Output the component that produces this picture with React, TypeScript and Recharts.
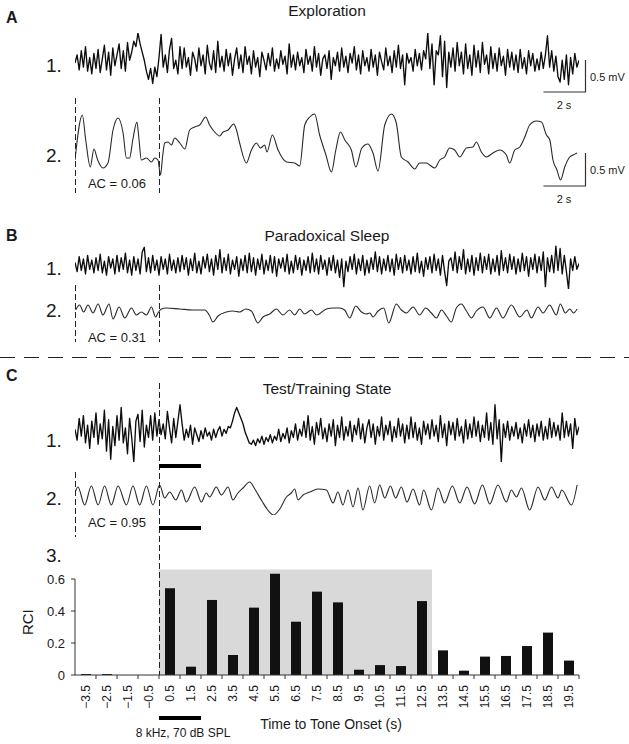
import React from 'react';
import { LineChart, Line, XAxis, YAxis, BarChart, Bar, ReferenceArea, ReferenceLine } from 'recharts';

const FONT = '"Liberation Sans", Arial, Helvetica, sans-serif';
const INK = '#1a1a1a';

// time axis shared by all traces (s, relative to tone onset)
const T_START = -4;
const T_END = 20;
const TRACE_LEFT = 75;
const TRACE_WIDTH = 504;
const xOf = (t: number) => TRACE_LEFT + ((t - T_START) / (T_END - T_START)) * TRACE_WIDTH;
const crisp = (x: number) => Math.round(x) + 0.5;

// raw LFP, 10 samples per second, amplitude in arbitrary units
const a1Samples = [
  0, 6, -5, 9, -3, 12, -6, 4, -8, 7,
  -4, 10, -7, 3, 13, -5, 8, -9, 11, -2,
  6, 14, -4, 9, -6, 15, 2, 8, 16, 12,
  22, 14, 8, 2, -6, -12, -4, -15, -3, -10,
  4, 21, -3, 6, -7, 10, 18, -4, 2, -8,
  12, -4, 11, -3, 4, -9, 8, 3, -6, 11,
  -2, 6, -8, 13, 0, -5, 9, -7, 16, -3,
  5, -6, 10, -2, 7, -9, 3, 11, -4, 6,
  -7, 12, -1, 5, -8, 9, -3, 4, -10, 8,
  2, -5, 7, -2, 11, -6, 3, -4, 9, -1,
  5, -8, 14, -3, 6, -5, 8, -2, 4, -7,
  10, -1, 5, -6, 12, -3, 7, -9, 3, 6,
  -4, 9, -12, 4, -2, 8, -6, 11, -3, 5,
  -7, 7, 0, 12, -5, 6, -8, 9, -2, 4,
  -6, 10, -3, 6, -9, 8, 1, -5, 11, -2,
  5, -7, 9, -3, 13, -4, 6, -16, 7, 0,
  4, -6, 10, -2, 7, -5, 9, 3, 22, -4,
  14, -16, 9, 6, 20, -10, 16, -18, 8, -3,
  11, -6, 15, -2, 8, -8, 14, -4, 6, -9,
  13, -3, 9, -7, 15, -1, 6, -8, 12, -4,
  7, -6, 11, -2, 5, -9, 10, -3, 8, -5,
  6, -7, 10, -4, 4, -8, 9, -2, 7, -6,
  3, -5, 8, -4, 6, 20, -3, 9, -6, 5,
  -10, -14, 2, -12, 6, -16, 4, -8, 7, -3,
  2,
];

const b1Samples = [
  3, -5, 8, -4, 6, -7, 9, -3, 5, -6,
  7, -4, 10, -6, 4, -8, 8, -2, 6, -7,
  9, -5, 7, -3, 11, -6, 5, -8, 8, -4,
  6, -7, 12, 16, -5, 7, -6, 9, -4, 5,
  -8, 8, -3, 6, -7, 10, -4, 5, -6, 7,
  -5, 9, -3, 7, -8, 6, -4, 11, -6, 4,
  -7, 8, -2, 10, -5, 6, -8, 9, -3, 14,
  -6, 7, -4, 10, -7, 5, -3, 8, -9, 6,
  -4, 9, -6, 11, -5, 7, -8, 6, -3, 10,
  -7, 5, -4, 9, -6, 8, -9, 6, -2, 7,
  -5, 10, -7, 4, -6, 9, -3, 7, -8, 5,
  -4, 8, -6, 11, -5, 6, -7, 9, -3, 5,
  -8, 7, -4, 9, -6, 5, -10, 6, -18, 4,
  -5, 8, -3, 10, -7, 6, -4, 9, -8, 5,
  -6, 7, -3, 12, -5, 8, -7, 6, -4, 9,
  -5, 6, -8, 10, -3, 7, -6, 9, -4, 5,
  -7, 8, -5, 11, -6, 4, -9, 7, -3, 8,
  -6, 10, -4, 6, -8, 9, -5, -17, 4, 7,
  -4, 12, -6, 8, -3, 14, -7, 6, -5, 9,
  -8, 7, -4, 11, -6, 8, -3, 10, -7, 6,
  -5, 9, -8, 13, -4, 7, -6, 10, -3, 8,
  -7, 6, -5, 11, -4, 8, -9, 7, -3, 10,
  -6, 8, -4, 12, -18, 7, -5, 9, -6, 17,
  -4, 15, -7, 9, -5, -20, 6, -4, 8, -3,
  2,
];

const c1Samples = [
  2, -6, 10, -3, 12, -8, 5, -12, 8, -4,
  14, -9, 6, -5, 16, -14, 9, -20, 4, -10,
  12, -6, 18, -8, 3, -16, 10, -4, -22, 8,
  13, -7, 16, -11, 5, -4, 12, -6, 14, -3,
  9, -2, 6, -5, 15, 3, -8, 10, -4, 8,
  20, 6, -6, 2, -4, 5, -9, 3, -2, -7,
  1, -5, 3, -3, 0, -6, 2, -4, 1, 4,
  -3, 2, -1, 4, 3, 8, 14, 18, 14, 10,
  6, 0, -4, -8, -9, -6, -10, -5, -8, -3,
  -9, -4, -7, -2, -8, -3, -6, 2, -7, -1,
  -5, 3, -8, 1, -4, 6, -6, 2, -3, 8,
  -4, 12, -6, 4, -9, 7, -2, 10, -5, 3,
  -7, 6, -3, 9, -10, 5, -4, 11, -6, 4,
  -3, 8, -7, 5, -2, 10, -5, 6, -8, 3,
  9, -4, 6, -9, 4, -3, 11, -6, 5, -2,
  8, -7, 4, -4, 10, -3, 6, -8, 5, -5,
  11, -4, 7, -6, 3, -9, 8, -2, 6, -5,
  9, -3, 5, -7, 12, -4, 6, -10, 8, -2,
  7, -6, 10, -3, 4, -8, 9, -5, 6, -4,
  11, -3, 8, -7, 5, -4, 14, -6, 7, -9,
  20, -5, 9, -22, 6, -4, 8, -6, 4, -3,
  7, -5, 3, -8, 6, -3, 9, -4, 5, -7,
  6, -3, 8, -6, 4, -5, 10, -4, 7, -3,
  5, -6, 14, -4, 8, -3, 6, -12, 10, -2,
  4,
];

// filtered traces: [time (s), amplitude]
const a2Points: [number, number][] = [
  [-4.0, -15], [-3.65, 30], [-3.49, 5], [-3.27, -22], [-3.1, -4], [-2.92, -15], [-2.67, -23], [-2.43, -18],
  [-2.19, 15], [-1.95, 27], [-1.71, 12], [-1.55, -13], [-1.4, -13], [-1.25, 5], [-1.05, 23], [-0.95, 5],
  [-0.84, -15], [-0.6, -13], [-0.36, -17], [-0.2, -13], [-0.05, -15], [0.07, -30], [0.18, -10], [0.27, 2],
  [0.43, 3], [0.59, 0], [0.75, 7], [0.99, 2], [1.23, -4], [1.46, 15], [1.7, 18], [1.94, 20],
  [2.22, 28], [2.41, 20], [2.65, 13], [2.89, 9], [3.05, 13], [3.29, 15], [3.56, 21], [3.69, 15],
  [3.84, 2], [4.16, -18], [4.4, -5], [4.64, 2], [4.83, -3], [5.03, 0], [5.14, -7], [5.4, 10],
  [5.67, -5], [6.07, -17], [6.46, -18], [6.7, -21], [6.94, 20], [7.18, 28], [7.41, 31], [7.65, 10],
  [7.95, -10], [8.21, -27], [8.42, -5], [8.64, 13], [8.85, 5], [9.16, -5], [9.37, -22], [9.66, -3],
  [9.95, 1], [10.19, -8], [10.43, -26], [10.75, 20], [11.07, 31], [11.3, 22], [11.54, -12], [11.86, -17],
  [12.18, -24], [12.41, -18], [12.73, -18], [12.89, -20], [13.13, -23], [13.37, -15], [13.6, -12], [13.84, -3],
  [14.08, -5], [14.32, -12], [14.64, -3], [14.95, -2], [15.11, 3], [15.35, -7], [15.59, -12], [15.9, -8],
  [16.22, -5], [16.54, -10], [16.7, -18], [16.94, -5], [17.18, -2], [17.42, 8], [17.65, 20], [17.97, 24],
  [18.21, 23], [18.45, 10], [18.61, 5], [18.76, -15], [18.95, -25], [19.12, -35], [19.32, -22], [19.56, -12],
  [19.72, -10], [19.91, -8],
];

const b2Points: [number, number][] = [
  [-3.97, 2], [-3.78, 7], [-3.59, 0], [-3.38, 7], [-3.14, -1], [-2.9, 8], [-2.67, -3], [-2.38, 8],
  [-2.19, -7], [-1.9, 5], [-1.63, -6], [-1.31, 4], [-1.08, -3], [-0.84, 0], [-0.6, -3], [-0.36, 5],
  [-0.16, -5], [-0.05, -1], [0.11, 3], [0.35, 4], [0.99, 3], [1.62, 2], [2.18, 2], [2.39, -3],
  [2.57, -10], [2.81, -4], [3.21, 0], [3.52, 1], [3.84, 0], [4.13, 3], [4.4, 1], [4.71, -11],
  [4.95, -5], [5.27, -2], [5.59, 3], [5.9, -3], [6.22, 2], [6.46, -3], [6.7, 3], [6.93, -2],
  [7.26, 2], [7.5, -3], [7.97, 3], [8.29, 4], [8.6, 4], [8.84, 2], [9.08, -6], [9.37, 6],
  [9.64, 0], [9.88, -2], [10.04, -1], [10.19, -5], [10.43, 1], [10.7, 4], [10.94, -11], [11.3, 8],
  [11.54, 2], [11.78, -1], [12.1, 5], [12.41, -3], [12.7, 4], [12.97, -1], [13.21, -6], [13.45, 2],
  [13.69, -4], [13.92, -10], [14.16, 4], [14.4, 8], [14.64, 1], [14.88, -6], [15.11, 1], [15.43, 5],
  [15.75, -6], [16.07, 4], [16.38, -6], [16.78, 7], [17.18, -5], [17.52, 2], [17.73, -6], [18.05, 5],
  [18.29, -1], [18.6, 7], [18.92, -3], [19.11, 8], [19.35, -1], [19.56, 3], [19.74, -1], [19.91, 3],
];

const c2Points: [number, number][] = [
  [-4.0, 2], [-3.86, 8], [-3.54, -10], [-3.22, 9], [-2.9, -10], [-2.59, 9], [-2.27, -10], [-1.95, 9],
  [-1.55, -10], [-1.24, 9], [-0.92, -10], [-0.6, 9], [-0.29, -10], [0.03, 10], [0.27, -3], [0.51, 3],
  [0.8, -5], [1.07, 5], [1.3, -7], [1.7, 8], [2.02, -7], [2.25, 2], [2.41, -2], [2.73, 8],
  [2.97, 0], [3.29, 8], [3.52, -5], [3.76, 2], [4.0, 7], [4.32, 13], [4.56, 6], [4.9, -6],
  [5.18, -15], [5.46, -20], [5.75, -14], [6.07, -2], [6.3, 2], [6.46, 6], [6.62, -5], [6.86, 0],
  [7.18, 3], [7.57, 6], [7.97, 5], [8.29, -8], [8.52, 3], [8.76, -10], [9.0, 5], [9.24, -12],
  [9.48, 7], [9.71, -15], [10.03, 9], [10.27, -8], [10.51, 10], [10.75, -3], [11.02, 9], [11.27, -3],
  [11.54, 8], [11.81, -7], [12.1, 6], [12.41, -10], [12.6, 5], [12.97, -15], [13.29, 7], [13.6, -8],
  [13.97, 9], [14.32, -8], [14.67, 8], [15.03, -9], [15.4, 10], [15.75, -9], [16.14, 10], [16.54, -7],
  [16.78, 5], [17.02, -2], [17.26, 7], [17.65, -15], [18.05, 8], [18.37, -5], [18.69, 8], [19.0, -3],
  [19.18, 5], [19.64, -10], [19.91, 10],
];

// panel C3: response consistency index per 1 s bin
const bins = ['−3.5', '−2.5', '−1.5', '−0.5', '0.5', '1.5', '2.5', '3.5', '4.5', '5.5', '6.5', '7.5',
  '8.5', '9.5', '10.5', '11.5', '12.5', '13.5', '14.5', '15.5', '16.5', '17.5', '18.5', '19.5'];
const rci = [0.006, 0.006, 0, 0, 0.542, 0.052, 0.469, 0.125, 0.421, 0.633, 0.333, 0.521,
  0.454, 0.033, 0.062, 0.056, 0.462, 0.154, 0.027, 0.115, 0.119, 0.181, 0.265, 0.09];
const rciTicks = [0, 0.2, 0.4, 0.6];
const trainingWindow = ['0.5', '12.5'];
const rciShadeTop = 0.66;

const barData = bins.map((bin, i) => ({ bin, rci: rci[i] }));

const sampleData = (samples: number[]) => samples.map((v, i) => ({ i, v }));
const pointData = (pts: [number, number][]) => pts.map(([t, v]) => ({ i: t, v }));

interface TraceProps {
  data: { i: number; v: number }[];
  xDomain: [number, number];
  top: number;
  height: number;
  range: number;
  smooth?: boolean;
}

const Trace: React.FC<TraceProps> = ({ data, xDomain, top, height, range, smooth }) => (
  <div style={{ position: 'absolute', left: TRACE_LEFT, top }}>
    <LineChart width={TRACE_WIDTH} height={height} data={data} margin={{ top: 0, right: 0, bottom: 0, left: 0 }}>
      <XAxis dataKey="i" type="number" domain={xDomain} hide />
      <YAxis type="number" domain={[-range, range]} hide />
      <Line
        type={smooth ? 'monotone' : 'linear'}
        dataKey="v"
        stroke={smooth ? '#2a2a2a' : '#0d0d0d'}
        strokeWidth={smooth ? 1.1 : 1.35}
        strokeLinejoin="round"
        dot={false}
        isAnimationActive={false}
      />
    </LineChart>
  </div>
);

const BinTick = (props: any) => {
  const { x, y, payload, width, visibleTicksCount } = props;
  const half = width / visibleTicksCount / 2;
  return (
    <g>
      <line x1={x + half} x2={x + half} y1={y - 4} y2={y} stroke="#333" />
      <text
        x={x}
        y={y + 6}
        transform={`rotate(-90 ${x} ${y + 6})`}
        textAnchor="end"
        dominantBaseline="central"
        fontSize={12}
        fill={INK}
        fontFamily={FONT}
      >
        {payload.value}
      </text>
    </g>
  );
};

const Txt = ({ x, y, children, size = 13, anchor = 'middle', weight = 'normal' }: any) => (
  <text x={x} y={y} fontSize={size} textAnchor={anchor} dominantBaseline="central" fill={INK} fontFamily={FONT} fontWeight={weight}>
    {children}
  </text>
);

const ScaleBar = ({ top, bottom }: { top: number; bottom: number }) => {
  const right = crisp(xOf(T_END) + 6);
  const left = right - (xOf(2) - xOf(0));
  return (
    <g stroke="#333" strokeWidth={1.2} fill="none">
      <polyline points={`${right},${top} ${right},${bottom} ${left},${bottom}`} />
    </g>
  );
};

const Dashed = ({ x, y1, y2 }: { x: number; y1: number; y2: number }) => (
  <line x1={crisp(x)} x2={crisp(x)} y1={y1} y2={y2} stroke="#222" strokeWidth={1} strokeDasharray="6 3" />
);

const ToneBar = ({ y }: { y: number }) => (
  <line x1={xOf(0)} x2={xOf(2)} y1={y} y2={y} stroke="#000" strokeWidth={4} />
);

export default function App() {
  const noisyDomain = (s: number[]): [number, number] => [0, s.length - 1];
  const tDomain: [number, number] = [T_START, T_END];
  const midX = TRACE_LEFT + TRACE_WIDTH / 2;

  return (
    <div style={{ position: 'absolute', left: 0, top: 0, width: 629, height: 744, background: '#fff', fontFamily: FONT }}>
      <Trace data={sampleData(a1Samples)} xDomain={noisyDomain(a1Samples)} top={33} height={60} range={22} />
      <Trace data={pointData(a2Points)} xDomain={tDomain} top={105} height={80} range={40} smooth />
      <Trace data={sampleData(b1Samples)} xDomain={noisyDomain(b1Samples)} top={245} height={44} range={18} />
      <Trace data={pointData(b2Points)} xDomain={tDomain} top={297} height={30} range={15} smooth />
      <Trace data={sampleData(c1Samples)} xDomain={noisyDomain(c1Samples)} top={402} height={60} range={22} />
      <Trace data={pointData(c2Points)} xDomain={tDomain} top={475} height={40} range={20} smooth />

      <div style={{ position: 'absolute', left: 0, top: 540 }}>
        <BarChart width={629} height={200} data={barData} margin={{ top: 29.4, right: 50, bottom: 10, left: 0 }}>
          <ReferenceArea
            x1={trainingWindow[0]}
            x2={trainingWindow[1]}
            y1={0}
            y2={rciShadeTop}
            fill="#d9d9d9"
            fillOpacity={1}
            stroke="none"
          />
          <XAxis
            dataKey="bin"
            height={55}
            interval={0}
            tickSize={4}
            tickMargin={0}
            tickLine={false}
            axisLine={{ stroke: '#333' }}
            tick={<BinTick />}
            label={{
              content: (p: any) => (
                <text
                  x={p.viewBox.x + p.viewBox.width / 2 + 4}
                  y={p.viewBox.y + 49}
                  textAnchor="middle"
                  dominantBaseline="central"
                  fontSize={14}
                  fill={INK}
                  fontFamily={FONT}
                >
                  Time to Tone Onset (s)
                </text>
              ),
            }}
          />
          <YAxis
            width={75}
            type="number"
            domain={[0, rciShadeTop]}
            ticks={rciTicks}
            axisLine={false}
            tickSize={4}
            tickMargin={6}
            tickLine={{ stroke: '#333' }}
            tick={{ fontSize: 13, fill: INK, fontFamily: FONT }}
            tickFormatter={(v: number) => (v === 0 ? '0' : v.toFixed(1))}
            label={{
              content: (p: any) => {
                const cx = p.viewBox.x + 28;
                const cy = p.viewBox.y + p.viewBox.height / 2;
                return (
                  <text
                    x={cx}
                    y={cy}
                    transform={`rotate(-90 ${cx} ${cy})`}
                    textAnchor="middle"
                    dominantBaseline="central"
                    fontSize={15}
                    fill={INK}
                    fontFamily={FONT}
                  >
                    RCI
                  </text>
                );
              },
            }}
          />
          <ReferenceLine
            segment={[{ x: bins[0], y: 0 }, { x: bins[0], y: 0.6 }]}
            position="start"
            stroke="#333"
          />
          <Bar dataKey="rci" fill="#111" barSize={10} isAnimationActive={false} />
        </BarChart>
      </div>

      <svg width={629} height={744} style={{ position: 'absolute', left: 0, top: 0, pointerEvents: 'none' }}>
        {/* panel A */}
        <Txt x={6} y={17} size={16} anchor="start" weight="bold">A</Txt>
        <Txt x={midX} y={10} size={15.5}>Exploration</Txt>
        <Txt x={46} y={65} size={19} anchor="start">1.</Txt>
        <ScaleBar top={60} bottom={92} />
        <Txt x={590} y={77} size={11} anchor="start">0.5 mV</Txt>
        <Txt x={564} y={105} size={11}>2 s</Txt>
        <Txt x={46} y={155} size={19} anchor="start">2.</Txt>
        <Dashed x={xOf(T_START)} y1={98} y2={193} />
        <Dashed x={xOf(0)} y1={98} y2={193} />
        <Txt x={117} y={183} size={13}>AC = 0.06</Txt>
        <ScaleBar top={153} bottom={186} />
        <Txt x={590} y={170} size={11} anchor="start">0.5 mV</Txt>
        <Txt x={564} y={199} size={11}>2 s</Txt>

        {/* panel B */}
        <Txt x={6} y={235} size={16} anchor="start" weight="bold">B</Txt>
        <Txt x={midX} y={235} size={15.5}>Paradoxical Sleep</Txt>
        <Txt x={46} y={268} size={19} anchor="start">1.</Txt>
        <Txt x={46} y={310} size={19} anchor="start">2.</Txt>
        <Dashed x={xOf(T_START)} y1={285} y2={342} />
        <Dashed x={xOf(0)} y1={285} y2={342} />
        <Txt x={117} y={337} size={13}>AC = 0.31</Txt>

        <line x1={0} x2={629} y1={357.5} y2={357.5} stroke="#222" strokeDasharray="15 9" />

        {/* panel C */}
        <Txt x={6} y={375} size={16} anchor="start" weight="bold">C</Txt>
        <Txt x={midX} y={388} size={15.5}>Test/Training State</Txt>
        <Txt x={46} y={440} size={19} anchor="start">1.</Txt>
        <Txt x={46} y={498} size={19} anchor="start">2.</Txt>
        <Txt x={46} y={555} size={19} anchor="start">3.</Txt>
        <Dashed x={xOf(0)} y1={383} y2={675} />
        <Dashed x={xOf(T_START)} y1={472} y2={537} />
        <Txt x={117} y={522} size={13}>AC = 0.95</Txt>
        <ToneBar y={466} />
        <ToneBar y={528} />
        <ToneBar y={718} />
        <Txt x={183} y={733} size={12}>8 kHz, 70 dB SPL</Txt>
      </svg>
    </div>
  );
}
